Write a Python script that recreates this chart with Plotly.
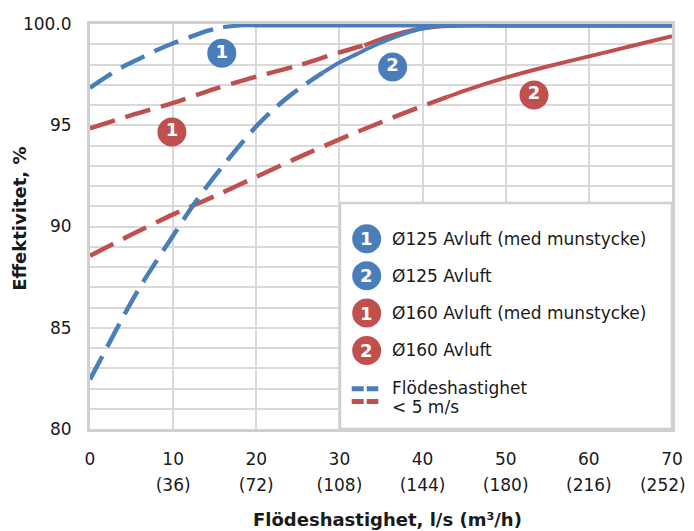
import plotly.graph_objects as go

# flow in l/s and efficiency in %
x_b1 = [0, 2, 4, 6, 8, 10, 12, 14, 16, 18, 20, 30, 40, 50, 60, 70]
y_b1 = [96.85, 97.4, 97.9, 98.3, 98.7, 99.05, 99.35, 99.65, 99.85, 99.93, 99.93, 99.93, 99.93, 99.93, 99.93, 99.93]

x_b2 = [0, 2, 4, 6, 8, 10, 12, 14, 16, 18, 20, 22, 24, 26, 28, 30, 32, 34, 36, 38, 40, 42, 44, 50, 60, 70]
y_b2 = [82.45, 84.0, 85.55, 87.0, 88.3, 89.55, 90.8, 91.95, 93.0, 94.0, 94.95, 95.75, 96.45, 97.05, 97.6,
        98.1, 98.5, 98.9, 99.25, 99.55, 99.78, 99.9, 99.93, 99.93, 99.93, 99.93]

x_r1 = [0, 5, 10, 15, 20, 25, 30, 33, 36, 39, 42, 45, 50, 60, 70]
y_r1 = [94.85, 95.5, 96.1, 96.8, 97.4, 97.95, 98.6, 98.95, 99.4, 99.72, 99.88, 99.93, 99.93, 99.93, 99.93]

x_r2 = [0, 5, 10, 15, 20, 25, 30, 35, 40, 43, 45, 50, 55, 60, 65, 70]
y_r2 = [88.55, 89.6, 90.6, 91.5, 92.45, 93.4, 94.3, 95.15, 95.95, 96.4, 96.7, 97.35, 97.9, 98.4, 98.9, 99.4]

# flow where the velocity passes 5 m/s (dashed below this)
dash_end = {"b1": 16, "b2": 28, "r1": 33, "r2": 43}

ls_ticks = [0, 10, 20, 30, 40, 50, 60, 70]
ls_text = ["0", "10", "20", "30", "40", "50", "60", "70"]
# last m3/h label pulled in a little so it stays inside the page
m3h_pos = [10, 20, 30, 40, 50, 60, 68.9]
m3h_ticks = ["(36)", "(72)", "(108)", "(144)", "(180)", "(216)", "(252)"]
eff_ticks = [80, 85, 90, 95, 100]
eff_text = ["80", "85", "90", "95", "100.0"]

legend_labels = ["Ø125 Avluft (med munstycke)", "Ø125 Avluft",
                 "Ø160 Avluft (med munstycke)", "Ø160 Avluft"]

# badge label positions on the curves
badge_x = [15.85, 36.4, 9.85, 53.4]
badge_y = [98.55, 97.88, 94.67, 96.5]
badge_num = ["1", "2", "1", "2"]

BLUE = "#4a7ebb"
RED = "#c0504d"
GRID = "#d9d9d9"
TXT = "#1a1a1a"
FONT = "DejaVu Sans"

fig = go.Figure()

curves = [("r2", x_r2, y_r2, RED), ("r1", x_r1, y_r1, RED),
          ("b2", x_b2, y_b2, BLUE), ("b1", x_b1, y_b1, BLUE)]
for key, xs, ys, col in curves:
    cut = dash_end[key]
    xd = [x for x in xs if x <= cut]
    yd = [y for x, y in zip(xs, ys) if x <= cut]
    xs_ = [x for x in xs if x >= cut]
    ys_ = [y for x, y in zip(xs, ys) if x >= cut]
    fig.add_trace(go.Scatter(x=xd, y=yd, mode="lines", showlegend=False, hoverinfo="skip",
                             line=dict(color=col, width=4.5, dash="26px,11px", shape="spline", smoothing=0.8)))
    fig.add_trace(go.Scatter(x=xs_, y=ys_, mode="lines", showlegend=False, hoverinfo="skip",
                             line=dict(color=col, width=4, shape="spline", smoothing=0.8)))

badge_cols = [BLUE, BLUE, RED, RED]
# badges sit on x2 (same range as x) so the second tick row gets drawn
fig.add_trace(go.Scatter(x=badge_x, y=badge_y, xaxis="x2", mode="markers+text", text=badge_num,
                         textposition="middle center", showlegend=False, hoverinfo="skip",
                         marker=dict(size=29, color=badge_cols, line=dict(width=0)),
                         textfont=dict(family="DejaVu Sans", size=18, color="white", weight="bold")))

# legend box drawn by hand
shapes = [dict(type="rect", xref="paper", yref="paper", x0=0.4296, x1=1, y0=0, y1=0.558,
               fillcolor="white", line=dict(color="#d0d0d0", width=2.5), layer="above")]
annots = []
leg_y = [0.470, 0.3785, 0.2864, 0.194]
for i, lab in enumerate(legend_labels):
    shapes.append(dict(type="circle", xref="paper", yref="paper", xsizemode="pixel", ysizemode="pixel",
                       xanchor=0.4754, yanchor=leg_y[i], x0=-14.5, x1=14.5, y0=-14.5, y1=14.5,
                       fillcolor=badge_cols[i], line=dict(width=0), layer="above"))
    annots.append(dict(xref="paper", yref="paper", x=0.4754, y=leg_y[i], text="<b>%s</b>" % badge_num[i],
                       showarrow=False, font=dict(family=FONT, size=18, color="white"),
                       xanchor="center", yanchor="middle"))
    annots.append(dict(xref="paper", yref="paper", x=0.5163, y=leg_y[i], text=lab, showarrow=False,
                       font=dict(family=FONT, size=17, color=TXT), xanchor="left", yanchor="middle"))
shapes.append(dict(type="line", xref="paper", yref="paper", x0=0.4497, x1=0.4954, y0=0.0995, y1=0.0995,
                   line=dict(color=BLUE, width=5, dash="12px,3px"), layer="above"))
shapes.append(dict(type="line", xref="paper", yref="paper", x0=0.4497, x1=0.4954, y0=0.0681, y1=0.0681,
                   line=dict(color=RED, width=5, dash="12px,3px"), layer="above"))
annots.append(dict(xref="paper", yref="paper", x=0.5163, y=0.102, text="Flödeshastighet", showarrow=False,
                   font=dict(family=FONT, size=17, color=TXT), xanchor="left", yanchor="middle"))
annots.append(dict(xref="paper", yref="paper", x=0.5163, y=0.0553, text="&lt; 5 m/s", showarrow=False,
                   font=dict(family=FONT, size=17, color=TXT), xanchor="left", yanchor="middle"))

# axis titles
annots.append(dict(xref="paper", yref="paper", x=0.512, y=-0.224, text="<b>Flödeshastighet, l/s (m³/h)</b>",
                   showarrow=False, font=dict(family=FONT, size=18, color=TXT), xanchor="center", yanchor="middle"))
annots.append(dict(xref="paper", yref="paper", x=-0.1203, y=0.519, text="<b>Effektivitet, %</b>", textangle=-90,
                   showarrow=False, font=dict(family=FONT, size=18, color=TXT), xanchor="center", yanchor="middle"))

# page body has an 8px margin, so the figure is shifted by 8px and made smaller
fig.update_layout(
    width=678, height=523,
    margin=dict(l=82, r=14, t=16, b=102, autoexpand=False),
    paper_bgcolor="white", plot_bgcolor="white",
    font=dict(family=FONT, size=17, color=TXT),
    shapes=shapes, annotations=annots,
    xaxis=dict(range=[0, 70], tickvals=ls_ticks, ticktext=ls_text,
               showgrid=True, gridcolor=GRID, gridwidth=2, zeroline=False, automargin=False,
               showline=True, linecolor="#d0d0d0", linewidth=3, mirror=True, ticklabeloverflow="allow",
               ticks="", ticklabelstandoff=13, tickfont=dict(size=17)),
    xaxis2=dict(range=[0, 70], overlaying="x", anchor="y", side="bottom", automargin=False,
                tickvals=m3h_pos, ticktext=m3h_ticks, showgrid=False, showline=False,
                ticklabeloverflow="allow",
                zeroline=False, ticks="", ticklabelstandoff=44, tickfont=dict(size=17)),
    yaxis=dict(range=[80, 100], tickvals=eff_ticks, ticktext=eff_text, automargin=False,
               showgrid=True, gridcolor=GRID, gridwidth=2, zeroline=False,
               showline=True, linecolor="#d0d0d0", linewidth=3, mirror=True,
               ticks="", ticklabelstandoff=12, tickfont=dict(size=17),
               minor=dict(dtick=1, showgrid=True, gridcolor=GRID, gridwidth=2)),
)

fig.write_html("out.html")
